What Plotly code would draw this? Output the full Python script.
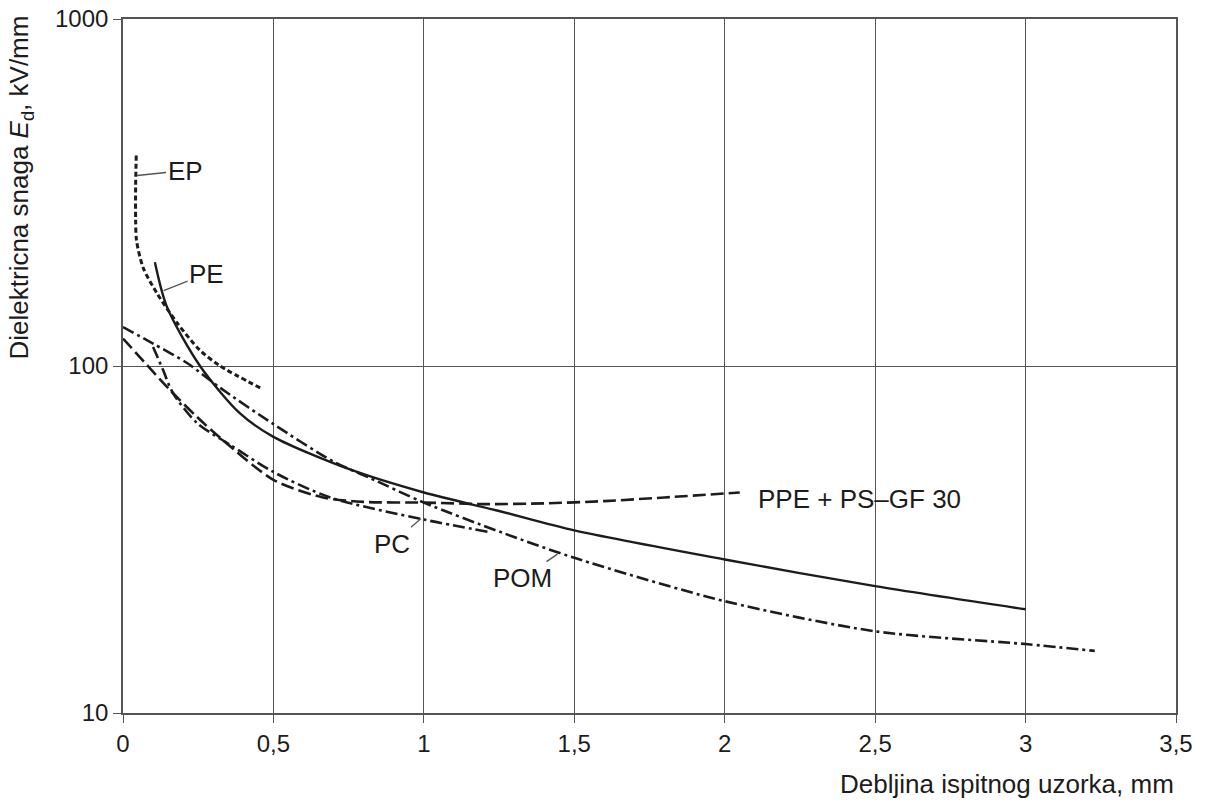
import math
import plotly.graph_objects as go

# Dielectric strength vs. specimen thickness for several plastics
ep_x = [0.044, 0.042, 0.042, 0.045, 0.067, 0.113, 0.180, 0.256, 0.323, 0.456]
ep_e = [404, 330, 263, 230, 192, 162, 133, 111, 100, 86.5]

pe_x = [0.106, 0.146, 0.256, 0.389, 0.5, 0.75, 1.0, 1.25, 1.5, 2.0, 2.5, 3.0]
pe_e = [199, 148, 100, 73, 62.5, 50.5, 43.2, 38.2, 33.6, 27.7, 23.2, 19.9]

ppe_x = [0, 0.08, 0.156, 0.246, 0.323, 0.5, 0.665, 0.8, 1.0, 1.2, 1.4, 1.6, 1.8, 2.05]
ppe_e = [120, 100.6, 85.3, 71.3, 62.1, 47, 41.8, 40.6, 40.4, 40.0, 40.2, 40.8, 41.8, 43.2]

pc_x = [0.10, 0.133, 0.166, 0.246, 0.356, 0.5, 0.689, 1.0, 1.22]
pc_e = [113.5, 97.5, 83.6, 68.5, 59.3, 49.5, 41.8, 36.1, 33.2]

pom_x = [0, 0.1, 0.213, 0.323, 0.5, 0.70, 0.82, 1.0, 1.26, 1.5, 2.0, 2.5, 3.0, 3.23]
pom_e = [129.5, 116, 102, 86.5, 68, 53, 47.6, 40.4, 33.1, 28.0, 21.0, 17.2, 15.8, 15.1]

x_ticks = [0, 0.5, 1, 1.5, 2, 2.5, 3, 3.5]
x_tick_text = ["0", "0,5", "1", "1,5", "2", "2,5", "3", "3,5"]
y_ticks = [10, 100, 1000]
y_tick_text = ["10", "100", "1000"]

INK = "#1c1c1c"
GRID = "#555555"
FONT = "Liberation Sans, Arial, sans-serif"
FS_TICK = 24
FS_LABEL = 26

series = [
    ("EP", ep_x, ep_e, "5px,3px", 3.0),
    ("PE", pe_x, pe_e, "solid", 2.4),
    ("PPE + PS–GF 30", ppe_x, ppe_e, "13px,5px", 2.6),
    ("PC", pc_x, pc_e, "12px,4px,3px,4px", 2.6),
    ("POM", pom_x, pom_e, "12px,4px,3px,4px", 2.6),
]

fig = go.Figure()
for name, xs, ys, dash, w in series:
    fig.add_trace(go.Scatter(
        x=xs, y=ys, mode="lines", name=name,
        line=dict(color=INK, width=w, dash=dash, shape="spline", smoothing=0.8),
        showlegend=False, hoverinfo="skip",
    ))

def pointer(text, x, e, ax, ay):
    # annotations on a log axis take log10 positions
    fig.add_annotation(
        x=x, y=math.log10(e), xref="x", yref="y", text=text, showarrow=True,
        arrowhead=0, arrowwidth=1.3, arrowcolor="#555555",
        ax=ax, ay=ay, font=dict(size=FS_LABEL, color=INK, family=FONT),
    )

pointer("EP", 0.047, 354, 48, -5)
pointer("PE", 0.135, 165, 43, -17)
pointer("PC", 0.99, 36.3, -29, 25)
pointer("POM", 1.444, 28.7, -35, 24)

fig.add_annotation(
    x=2.103, y=math.log10(41.5), xref="x", yref="y", text="PPE + PS–GF 30",
    showarrow=False, xanchor="left", yanchor="middle",
    font=dict(size=FS_LABEL, color=INK, family=FONT),
)

# axis titles
fig.add_annotation(
    x=1, y=0, xref="paper", yref="paper", xanchor="right", yanchor="middle",
    yshift=-71, showarrow=False, text="Debljina ispitnog uzorka, mm",
    font=dict(size=FS_LABEL, color=INK, family=FONT),
)
fig.add_annotation(
    x=-0.097, y=0.757, xref="paper", yref="paper", xanchor="center", yanchor="middle",
    textangle=-90, showarrow=False,
    text="Dielektricna snaga <i>E</i><sub>d</sub>, kV/mm",
    font=dict(size=FS_LABEL, color=INK, family=FONT),
)

axis_common = dict(
    showline=True, linecolor=GRID, linewidth=1.6, mirror=True,
    showgrid=True, gridcolor=GRID, gridwidth=1.4,
    ticks="outside", ticklen=8, tickwidth=1.4, tickcolor=GRID,
    zeroline=False, automargin=False,
    tickfont=dict(size=FS_TICK, color=INK, family=FONT),
)

fig.update_xaxes(range=[0, 3.5], tickvals=x_ticks, ticktext=x_tick_text, **axis_common)
fig.update_yaxes(type="log", range=[1, 3], tickvals=y_ticks, ticktext=y_tick_text, **axis_common)

fig.update_layout(
    width=1205, height=803,
    margin=dict(l=123, r=29, t=19, b=90),
    paper_bgcolor="white", plot_bgcolor="white",
    font=dict(family=FONT, size=FS_TICK, color=INK),
)

fig.write_html("out.html")
